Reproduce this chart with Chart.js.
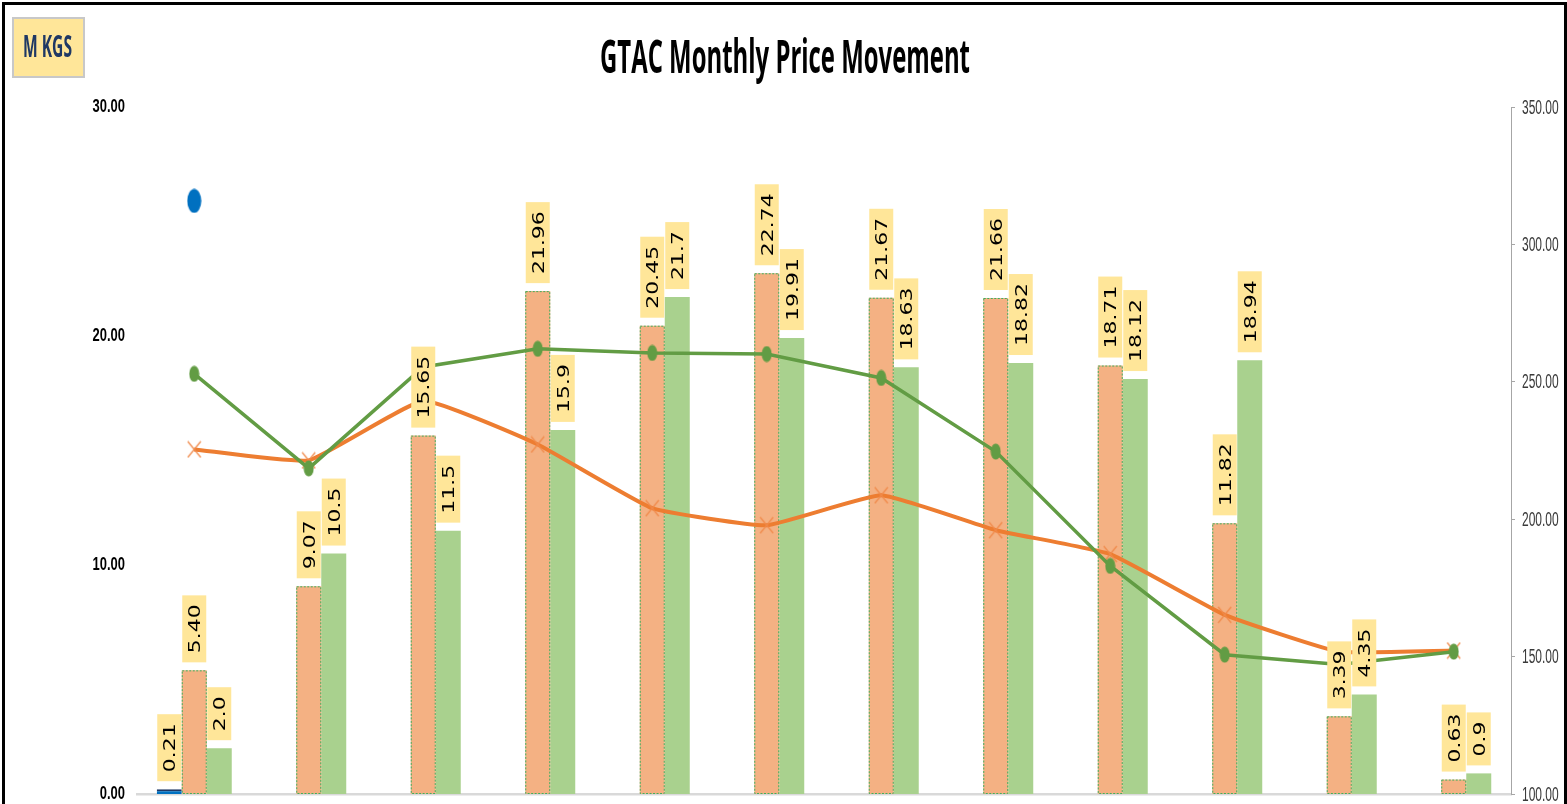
<!DOCTYPE html>
<html>
<head>
<meta charset="utf-8">
<script src="https://cdn.jsdelivr.net/npm/chart.js@4.4.0/dist/chart.umd.min.js"></script>
<style>
  html, body { margin: 0; padding: 0; background: #fff; }
  #wrap { position: relative; width: 1567px; height: 804px; overflow: hidden; }
  #chart { position: absolute; left: 0; top: 0; }
  #frame {
    position: absolute; left: 2px; top: 2px; width: 1565px; height: 840px;
    border: 3px solid #000; box-sizing: border-box; pointer-events: none;
  }
  #unit {
    position: absolute; left: 12px; top: 17px; width: 73px; height: 61px;
    background: #FFE699; border: 2px solid #C8C8C8; box-sizing: border-box;
  }
  #unit span, #title span {
    position: absolute; white-space: nowrap; transform-origin: 0 0;
    font-family: 'Open Sans', sans-serif; font-weight: 700; line-height: 1;
  }
  #unit span { color: #1F3864; font-size: 31px; }
  #title { position: absolute; left: 0; top: 0; width: 1567px; height: 100px; }
  #title span { color: #000; font-size: 46px; }
</style>
</head>
<body>
<div id="wrap">
  <canvas id="chart" width="1567" height="804"></canvas>
  <div id="title"><span>GTAC Monthly Price Movement</span></div>
  <div id="unit"><span>M KGS</span></div>
  <div id="frame"></div>
</div>
<script>
// categories (month labels are not shown on the chart)
const months = ['Apr', 'May', 'Jun', 'Jul', 'Aug', 'Sep', 'Oct', 'Nov', 'Dec', 'Jan', 'Feb', 'Mar'];

// quantities, left axis (M KGS)
const openingQty = [0.21, null, null, null, null, null, null, null, null, null, null, null];
const purchaseQty = [5.40, 9.07, 15.65, 21.96, 20.45, 22.74, 21.67, 21.66, 18.71, 11.82, 3.39, 0.63];
const salesQty = [2.0, 10.5, 11.5, 15.9, 21.7, 19.91, 18.63, 18.82, 18.12, 18.94, 4.35, 0.9];
const markerQty = [25.9, null, null, null, null, null, null, null, null, null, null, null];

// prices, right axis
const purchasePrice = [225.4, 221.4, 243.1, 227.2, 204.0, 197.8, 208.7, 196.0, 187.3, 165.2, 151.8, 152.2];
const salesPrice = [252.9, 218.5, 255.4, 262.0, 260.5, 260.1, 251.4, 224.6, 183.0, 150.7, 147.1, 151.8];

// axis ranges
const leftTicks = { min: 0, max: 30, step: 10 };
const rightTicks = { min: 100, max: 350, step: 50 };

// scale the html texts horizontally to the narrow look of the original
function fitText(el, left, top, width) {
  const w = el.getBoundingClientRect().width;
  el.style.left = left + 'px';
  el.style.top = top + 'px';
  el.style.transform = 'scaleX(' + (width / w) + ')';
}

function ellipseMarker(w, h, color) {
  const c = document.createElement('canvas');
  c.width = w; c.height = h;
  const g = c.getContext('2d');
  g.fillStyle = color;
  g.beginPath();
  g.ellipse(w / 2, h / 2, w / 2 - 0.5, h / 2 - 0.5, 0, 0, Math.PI * 2);
  g.fill();
  return c;
}

function crossMarker(w, h, color) {
  const c = document.createElement('canvas');
  c.width = w; c.height = h;
  const g = c.getContext('2d');
  g.strokeStyle = color;
  g.lineWidth = 1.2;
  g.beginPath();
  g.moveTo(1, 1); g.lineTo(w - 1, h - 1);
  g.moveTo(w - 1, 1); g.lineTo(1, h - 1);
  g.stroke();
  return c;
}

const qtyFormat = [
  v => v.toFixed(2),
  v => v.toFixed(2),
  v => v.toFixed(Number.isInteger(Math.round(v * 100) / 10) ? 1 : 2),
];

// value boxes above the bars + dotted outline of the purchase bars
const barLabels = {
  id: 'barLabels',
  afterDatasetDraw(chart, args) {
    if (args.index !== 1) return;
    const ctx = chart.ctx;
    ctx.save();
    ctx.setLineDash([2, 1.5]);
    ctx.strokeStyle = '#3FAF5F';
    ctx.lineWidth = 1;
    args.meta.data.forEach(bar => {
      const { x, y, base, width } = bar.getProps(['x', 'y', 'base', 'width'], true);
      ctx.strokeRect(x - width / 2 + 0.5, y + 0.5, width - 1, base - y - 1);
    });
    ctx.restore();
  },
  afterDatasetsDraw(chart) {
    const ctx = chart.ctx;
    [0, 1, 2].forEach(di => {
      const meta = chart.getDatasetMeta(di);
      const data = chart.data.datasets[di].data;
      meta.data.forEach((bar, i) => {
        const v = data[i];
        if (v === null || v === undefined) return;
        const text = qtyFormat[di](v);
        ctx.save();
        ctx.font = '22px "DejaVu Sans"';
        const tw = ctx.measureText(text).width;
        const boxH = tw + 18;
        const boxW = 24;
        const bottom = bar.y - 8;
        ctx.fillStyle = '#FFE699';
        ctx.fillRect(bar.x - boxW / 2, bottom - boxH, boxW, boxH);
        ctx.translate(bar.x, bottom - 9);
        ctx.rotate(-Math.PI / 2);
        ctx.scale(1, 0.75);
        ctx.fillStyle = '#000';
        ctx.textAlign = 'left';
        ctx.textBaseline = 'alphabetic';
        ctx.fillText(text, 0, 8);
        ctx.restore();
      });
    });
  },
  afterDraw(chart) {
    const ctx = chart.ctx;
    const yl = chart.scales.y;
    const yr = chart.scales.y1;
    ctx.save();
    ctx.textBaseline = 'middle';
    yl.ticks.forEach(t => {
      const py = yl.getPixelForValue(t.value);
      ctx.save();
      ctx.translate(125, py);
      ctx.scale(0.72, 1);
      ctx.font = 'bold 18px "Liberation Sans"';
      ctx.fillStyle = '#000';
      ctx.textAlign = 'right';
      ctx.fillText(t.value.toFixed(2), 0, 0);
      ctx.restore();
    });
    yr.ticks.forEach(t => {
      const py = yr.getPixelForValue(t.value);
      ctx.save();
      ctx.translate(1522, py + 1);
      ctx.scale(0.6, 1);
      ctx.font = '20px "Liberation Sans"';
      ctx.fillStyle = '#3A3A3A';
      ctx.textAlign = 'left';
      ctx.fillText(t.value.toFixed(2), 0, 0);
      ctx.restore();
    });
    ctx.restore();
  }
};

const ctx = document.getElementById('chart').getContext('2d');

new Chart(ctx, {
  data: {
    labels: months,
    datasets: [
      {
        type: 'bar',
        label: 'Opening',
        data: openingQty,
        backgroundColor: '#0070C0',
        borderColor: '#1F3864',
        borderWidth: { top: 2, left: 0, right: 0, bottom: 0 },
        yAxisID: 'y',
        order: 3,
      },
      {
        type: 'bar',
        label: 'Purchase Qty',
        data: purchaseQty,
        backgroundColor: '#F4B183',
        yAxisID: 'y',
        order: 3,
      },
      {
        type: 'bar',
        label: 'Sales Qty',
        data: salesQty,
        backgroundColor: '#A9D18E',
        yAxisID: 'y',
        order: 3,
      },
      {
        type: 'line',
        label: 'Purchase Price',
        data: purchasePrice,
        borderColor: '#ED7D31',
        borderWidth: 4,
        tension: 0.12,
        pointStyle: crossMarker(15, 18, '#F08A4B'),
        pointRadius: 6,
        yAxisID: 'y1',
        order: 1,
      },
      {
        type: 'line',
        label: 'Sales Price',
        data: salesPrice,
        borderColor: '#629C44',
        borderWidth: 3.5,
        tension: 0,
        pointStyle: ellipseMarker(11, 17, '#629C44'),
        pointRadius: 6,
        yAxisID: 'y1',
        order: 0,
      },
      {
        type: 'line',
        label: 'Marker',
        data: markerQty,
        showLine: false,
        pointStyle: ellipseMarker(15, 25, '#0070C0'),
        pointRadius: 8,
        yAxisID: 'y',
        order: 0,
      },
    ],
  },
  options: {
    responsive: false,
    animation: false,
    devicePixelRatio: 1,
    layout: { padding: { top: 107, bottom: 1, left: 0, right: 0 } },
    plugins: {
      legend: { display: false },
      tooltip: { enabled: false },
      title: { display: false },
    },
    datasets: {
      bar: { categoryPercentage: 0.655, barPercentage: 1, grouped: true },
    },
    scales: {
      x: {
        offset: true,
        grid: { display: false, drawTicks: false },
        border: { display: true, color: '#D9D9D9', width: 2.5 },
        ticks: { display: false },
        afterFit: s => { s.height = 0; },
      },
      y: {
        position: 'left',
        min: leftTicks.min,
        max: leftTicks.max,
        ticks: { display: false, stepSize: leftTicks.step },
        grid: { display: false, drawTicks: false },
        border: { display: false },
        afterFit: s => { s.width = 137; },
      },
      y1: {
        position: 'right',
        min: rightTicks.min,
        max: rightTicks.max,
        ticks: { display: false, stepSize: rightTicks.step },
        grid: { display: true, drawOnChartArea: false, drawTicks: true, tickLength: 4, color: '#A6A6A6' },
        border: { display: true, color: '#A6A6A6', width: 1 },
        afterFit: s => { s.width = 56; },
      },
    },
  },
  plugins: [barLabels],
});

// title and unit box
fitText(document.querySelector('#title span'), 600, 32, 370);
fitText(document.querySelector('#unit span'), 9, 11, 49);
</script>
</body>
</html>
